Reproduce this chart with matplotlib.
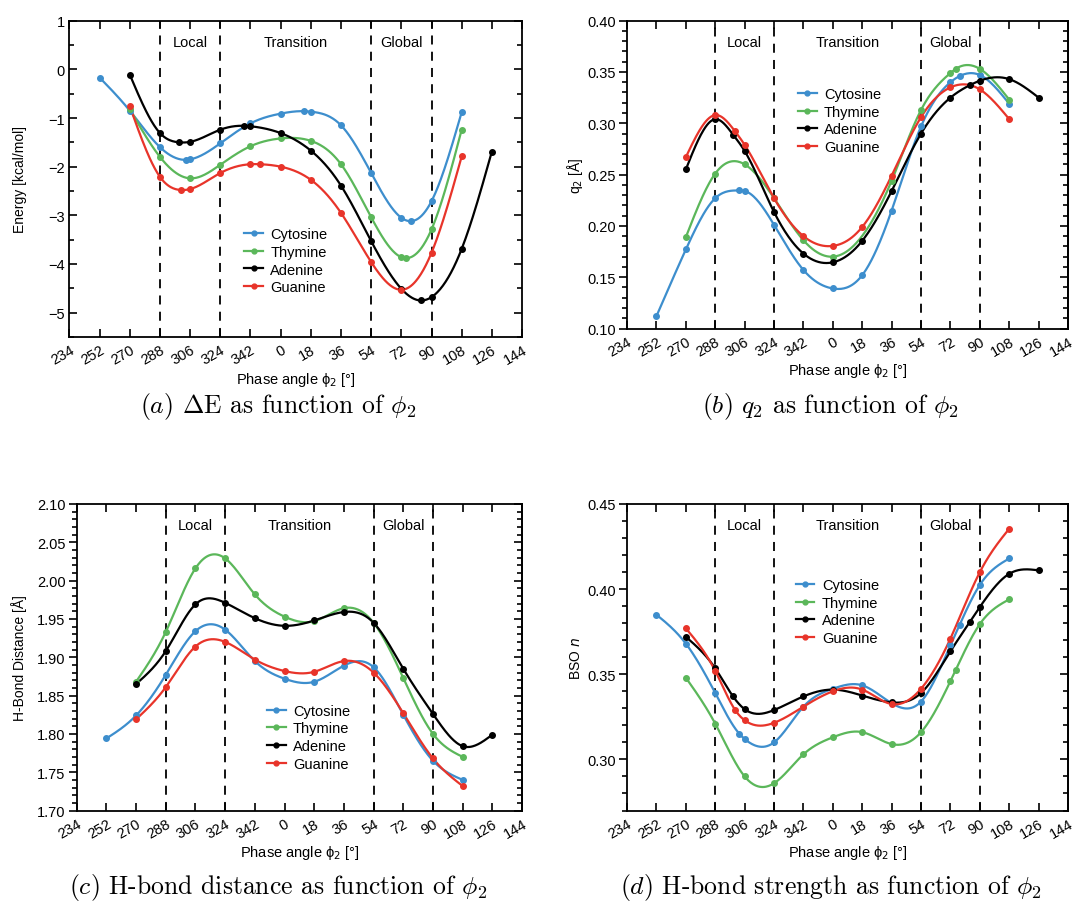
import matplotlib
matplotlib.use("Agg")
import matplotlib.pyplot as plt
from matplotlib.ticker import MultipleLocator, FormatStrFormatter
import numpy as np

plt.rcParams['font.family'] = ['Liberation Sans', 'DejaVu Sans']

# phase angle axis runs 234 -> 360(=0) -> 144, stored as continuous degrees
tick_pos = np.arange(234, 505, 18)
tick_labels = ['234', '252', '270', '288', '306', '324', '342', '0', '18',
               '36', '54', '72', '90', '108', '126', '144']
region_lines = [288, 324, 414, 450]
region_names = ['Local', 'Transition', 'Global']
region_centers = [306, 369, 432]

names = ['Cytosine', 'Thymine', 'Adenine', 'Guanine']
colors = ['#3d8ecd', '#5bb75a', '#000000', '#e8342a']

# (a) energy
e_cyt_x = [252, 270, 288, 303.5, 306, 324, 342, 360, 374, 378, 396, 414, 432, 437.5, 450, 468]
e_cyt_y = [-0.17, -0.85, -1.60, -1.86, -1.85, -1.52, -1.11, -0.91, -0.86, -0.87, -1.15, -2.13, -3.05, -3.12, -2.71, -0.88]
e_thy_x = [270, 288, 306, 324, 342, 360, 378, 396, 414, 432, 435, 450, 468]
e_thy_y = [-0.82, -1.80, -2.24, -1.96, -1.58, -1.42, -1.47, -1.95, -3.04, -3.86, -3.88, -3.29, -1.24]
e_ade_x = [270, 288, 299.5, 306, 324, 338, 342, 360, 378, 396, 414, 432, 444, 450, 468, 486]
e_ade_y = [-0.11, -1.31, -1.50, -1.49, -1.24, -1.16, -1.17, -1.31, -1.67, -2.39, -3.53, -4.51, -4.75, -4.68, -3.69, -1.69]
e_gua_x = [270, 288, 300.7, 306, 324, 342, 347.7, 360, 378, 396, 414, 432, 450, 468]
e_gua_y = [-0.76, -2.21, -2.48, -2.46, -2.13, -1.95, -1.95, -2.00, -2.27, -2.95, -3.96, -4.53, -3.77, -1.79]

# (b) puckering amplitude q2
q_cyt_x = [252, 270, 288, 302.8, 306, 324, 342, 360, 378, 396, 414, 432, 437.6, 450, 468]
q_cyt_y = [0.112, 0.177, 0.227, 0.2345, 0.234, 0.201, 0.157, 0.139, 0.152, 0.215, 0.297, 0.340, 0.346, 0.347, 0.319]
q_thy_x = [270, 288, 306, 324, 342, 360, 396, 414, 432, 435.2, 450, 468]
q_thy_y = [0.189, 0.251, 0.260, 0.227, 0.186, 0.170, 0.244, 0.313, 0.349, 0.353, 0.353, 0.323]
q_ade_x = [270, 288, 298.9, 306, 324, 342, 360, 378, 396, 414, 432, 443.7, 450, 468, 486]
q_ade_y = [0.255, 0.304, 0.289, 0.273, 0.2135, 0.173, 0.1645, 0.1855, 0.234, 0.290, 0.325, 0.337, 0.3415, 0.343, 0.325]
q_gua_x = [270, 288, 300.2, 306, 324, 342, 360, 378, 396, 414, 432, 450, 468]
q_gua_y = [0.267, 0.308, 0.292, 0.279, 0.227, 0.190, 0.1805, 0.199, 0.249, 0.306, 0.335, 0.333, 0.304]

# (c) H-bond distance
d_x = [252, 270, 288, 306, 324, 342, 360, 378, 396, 414, 432, 450, 468, 486]
d_cyt_y = [1.794, 1.824, 1.877, 1.934, 1.936, 1.895, 1.872, 1.868, 1.889, 1.887, 1.825, 1.765, 1.740]
d_thy_y = [1.868, 1.933, 2.016, 2.029, 1.982, 1.953, 1.947, 1.964, 1.945, 1.873, 1.800, 1.770]
d_ade_y = [1.865, 1.908, 1.969, 1.971, 1.951, 1.941, 1.948, 1.959, 1.945, 1.885, 1.826, 1.784, 1.799]
d_gua_y = [1.819, 1.861, 1.914, 1.920, 1.897, 1.882, 1.881, 1.895, 1.880, 1.827, 1.768, 1.732]

# (d) bond strength order
b_cyt_x = [252, 270, 288, 302.8, 306, 324, 342, 360, 378, 396, 414, 432, 437.6, 450, 468]
b_cyt_y = [0.385, 0.368, 0.339, 0.315, 0.312, 0.310, 0.331, 0.3415, 0.3435, 0.333, 0.334, 0.367, 0.379, 0.4025, 0.418]
b_thy_x = [270, 288, 306, 324, 342, 360, 378, 396, 414, 432, 435.2, 450, 468]
b_thy_y = [0.348, 0.321, 0.290, 0.286, 0.303, 0.313, 0.316, 0.309, 0.316, 0.346, 0.3525, 0.3795, 0.394]
b_ade_x = [270, 288, 298.9, 306, 324, 342, 360, 378, 396, 414, 432, 443.7, 450, 468, 486]
b_ade_y = [0.372, 0.3535, 0.337, 0.3295, 0.329, 0.337, 0.341, 0.3375, 0.3335, 0.339, 0.3635, 0.3805, 0.3895, 0.409, 0.411]
b_gua_x = [270, 288, 300.2, 306, 324, 342, 360, 378, 396, 414, 432, 450, 468]
b_gua_y = [0.377, 0.352, 0.329, 0.323, 0.3215, 0.331, 0.340, 0.341, 0.3325, 0.3415, 0.371, 0.410, 0.4355]


def spline(x, y, n=400):
    # natural cubic spline through the measured points (drawing only)
    x = np.asarray(x, float)
    y = np.asarray(y, float)
    k = len(x)
    h = np.diff(x)
    A = np.zeros((k, k))
    r = np.zeros(k)
    A[0, 0] = A[-1, -1] = 1
    for i in range(1, k - 1):
        A[i, i - 1] = h[i - 1]
        A[i, i] = 2 * (h[i - 1] + h[i])
        A[i, i + 1] = h[i]
        r[i] = 3 * ((y[i + 1] - y[i]) / h[i] - (y[i] - y[i - 1]) / h[i - 1])
    c = np.linalg.solve(A, r)
    xs = np.linspace(x[0], x[-1], n)
    idx = np.clip(np.searchsorted(x, xs) - 1, 0, k - 2)
    dx = xs - x[idx]
    b = (y[1:] - y[:-1]) / h - h * (2 * c[:-1] + c[1:]) / 3
    d = (c[1:] - c[:-1]) / (3 * h)
    ys = y[idx] + b[idx] * dx + c[idx] * dx ** 2 + d[idx] * dx ** 3
    return xs, ys


fig = plt.figure(figsize=(10.77, 9.03), dpi=100)
boxes = [[0.0645, 0.6257, 0.4202, 0.3503],
         [0.5822, 0.6351, 0.4095, 0.3409],
         [0.0712, 0.1013, 0.4135, 0.3395],
         [0.5822, 0.1013, 0.4095, 0.3395]]
caption_xy = [(0.258, 0.5426), (0.7715, 0.5426), (0.258, 0.0095), (0.7715, 0.0095)]
ylabel_x = [-0.094, -0.095, -0.112, -0.100]
left_out = [False, True, True, True]

panels = [
    ([(e_cyt_x, e_cyt_y), (e_thy_x, e_thy_y), (e_ade_x, e_ade_y), (e_gua_x, e_gua_y)],
     (-5.5, 1), 1, 0.5, 'Energy [kcal/mol]', None, (0.386, 0.347),
     r'$\mathit{(a)}$ $\Delta$E as function of $\phi_2$'),
    ([(q_cyt_x, q_cyt_y), (q_thy_x, q_thy_y), (q_ade_x, q_ade_y), (q_gua_x, q_gua_y)],
     (0.10, 0.40), 0.05, 0.01, r'q$_2$ [Å]', '%.2f', (0.387, 0.784),
     r'$\mathit{(b)}$ $q_2$ as function of $\phi_2$'),
    ([(d_x[:13], d_cyt_y), (d_x[1:13], d_thy_y), (d_x[1:], d_ade_y), (d_x[1:13], d_gua_y)],
     (1.70, 2.10), 0.05, 0.01, 'H-Bond Distance [Å]', '%.2f', (0.427, 0.348),
     r'$\mathit{(c)}$ H-bond distance as function of $\phi_2$'),
    ([(b_cyt_x, b_cyt_y), (b_thy_x, b_thy_y), (b_ade_x, b_ade_y), (b_gua_x, b_gua_y)],
     (0.27, 0.45), 0.05, 0.01, r'BSO $n$', '%.2f', (0.382, 0.758),
     r'$\mathit{(d)}$ H-bond strength as function of $\phi_2$'),
]

for i, (series, ylim, major, minor, ylabel, fmt, leg_at, caption) in enumerate(panels):
    ax = fig.add_axes(boxes[i])
    for (x, y), name, col in zip(series, names, colors):
        xs, ys = spline(x, y)
        ax.plot(xs, ys, color=col, lw=1.6, zorder=3)
        ax.plot(x, y, 'o', color=col, ms=4, zorder=4)
        ax.plot([], [], '-o', color=col, lw=1.6, ms=3.5, label=name)
    for xv in region_lines:
        ax.axvline(xv, color='black', ls=(0, (5, 4)), lw=1.3, zorder=2)
    for xc, nm in zip(region_centers, region_names):
        ax.text(xc, 0.932, nm, transform=ax.get_xaxis_transform(),
                ha='center', va='center', fontsize=10.5)
    ax.set_xlim(234, 504)
    ax.set_ylim(*ylim)
    ax.set_xticks(tick_pos)
    ax.set_xticklabels(tick_labels, rotation=30, ha='right', rotation_mode='anchor')
    ax.yaxis.set_major_locator(MultipleLocator(major))
    ax.yaxis.set_minor_locator(MultipleLocator(minor))
    if fmt:
        ax.yaxis.set_major_formatter(FormatStrFormatter(fmt))
    ax.tick_params(axis='x', which='both', direction='in', top=True, width=1.2, labelsize=10.5, pad=4)
    ax.tick_params(axis='x', which='major', length=6)
    if left_out[i]:
        ax.tick_params(axis='y', which='both', direction='out', right=False, width=1.2,
                       labelsize=10.5, pad=2)
        ax.tick_params(axis='y', which='major', length=6)
        ax.tick_params(axis='y', which='minor', length=3.5)
        sec = ax.secondary_yaxis('right')
        sec.yaxis.set_major_locator(MultipleLocator(major))
        sec.yaxis.set_minor_locator(MultipleLocator(minor))
        sec.tick_params(which='both', direction='in', labelright=False, width=1.2)
        sec.tick_params(which='major', length=6)
        sec.tick_params(which='minor', length=3.5)
        sec.spines['right'].set_linewidth(1.3)
    else:
        ax.tick_params(axis='y', which='both', direction='in', right=True, width=1.2, labelsize=10.5)
        ax.tick_params(axis='y', which='major', length=6)
        ax.tick_params(axis='y', which='minor', length=3.5)
    for sp in ax.spines.values():
        sp.set_linewidth(1.3)
    ax.set_xlabel(r'Phase angle ϕ$_2$ [°]', fontsize=10.5, labelpad=2)
    ax.set_ylabel(ylabel, fontsize=10)
    ax.yaxis.set_label_coords(ylabel_x[i], 0.5)
    ax.legend(loc='upper left', bbox_to_anchor=leg_at, frameon=False, fontsize=10.5,
              handlelength=1.3, handletextpad=0.5, labelspacing=0.25,
              borderpad=0, borderaxespad=0)
    cx, cy = caption_xy[i]
    fig.text(cx, cy, caption, ha='center', va='baseline',
             fontsize=18.5, family='cmr10', math_fontfamily='cm')

fig.savefig('out.png', dpi=100)
